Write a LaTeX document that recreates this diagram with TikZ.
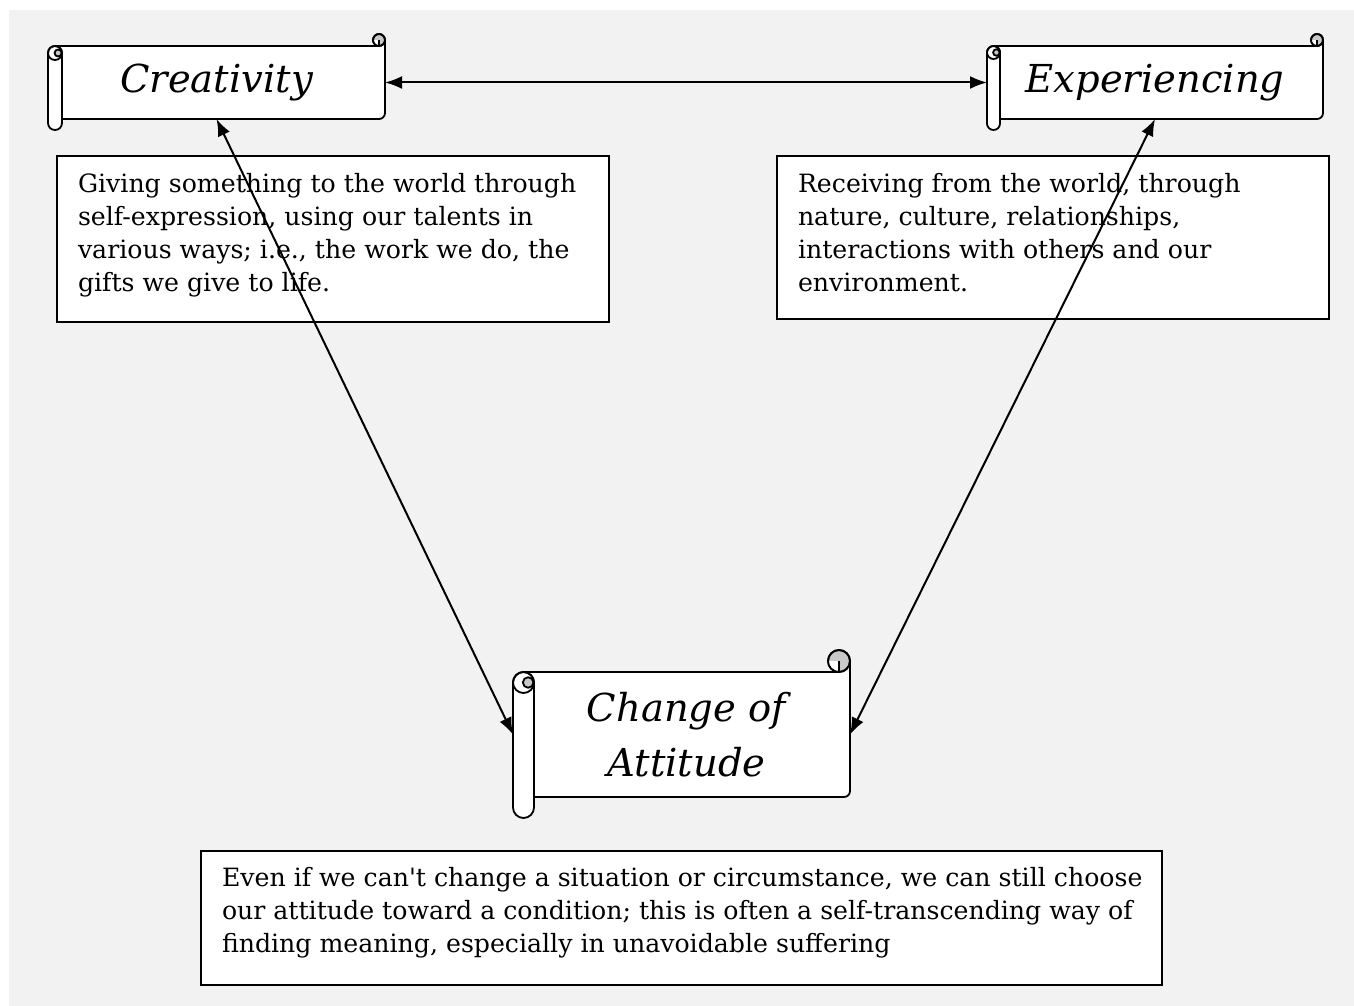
\documentclass[tikz,border=0pt]{standalone}
\usepackage{fontspec}
\setmainfont{DejaVu Serif}
\usetikzlibrary{arrows.meta}
\definecolor{bggray}{RGB}{242,242,242}
\definecolor{curlgray}{RGB}{200,200,200}
\tikzset{
  scrolltext/.style={inner sep=0pt, outer sep=0pt, align=center, font=\fontsize{38.5}{55}\selectfont\itshape},
  scrollline/.style={line width=1.8pt, draw=black},
  descbox/.style={draw=black, fill=white, line width=1.7pt, inner sep=0pt, outer sep=0pt, anchor=north west},
  desctext/.style={inner sep=0pt, outer sep=0pt, align=left, anchor=base west, font=\fontsize{25.2}{33}\selectfont},
  link/.style={line width=2pt, {Latex[length=17pt,width=13pt]}-{Latex[length=17pt,width=13pt]}}
}
% #1 name, #2 L, #3 w, #4 T, #5 B, #6 R, #7 roll bottom, #8 curl radius, #9 text
\newcommand\drawscroll[9]{%
  \fill[white] ({#2+#3/2},#4) -- (#6,#4) [rounded corners=6pt] -- (#6,#5) [sharp corners] -- ({#2+#3/2},#5) -- cycle;
  \draw[scrollline] ({#2+#3/2},#4) -- ({#6-#8},#4);
  \draw[scrollline] (#6,{#4-#8}) [rounded corners=6pt] -- (#6,#5) -- ({#2+#3},#5);
  % top-right curl
  \filldraw[scrollline, fill=curlgray] ({#6-#8},{#4-#8}) circle (#8);
  \begin{scope}
    \clip ({#6-#8},{#4-#8}) circle (#8);
    \fill[white] ({#6-2*#8-1},{#4-#8}) rectangle ({#6-#8},{#4+1});
  \end{scope}
  \draw[scrollline] ({#6-#8},{#4-#8}) circle (#8);
  \draw[scrollline] ({#6-#8},{#4-#8}) -- ({#6-#8},#4);
  % left roll
  \filldraw[scrollline, fill=white, rounded corners={#3/2}] (#2,#4) rectangle ({#2+#3},#7);
  \draw[scrollline] ({#2+#3/2},{#4+#3/2}) circle ({#3/2});
  \filldraw[scrollline, fill=curlgray] ({#2+0.72*#3},{#4+#3/2}) circle ({#3/4});
  \node[scrolltext, minimum width={#6-#2}, minimum height={#5-#4}] (#1) at ({(#2+#6)/2},{(#4+#5)/2}) {#9};
}
\begin{document}
\begin{tikzpicture}[x=1pt,y=-1pt]
\useasboundingbox (0,0) rectangle (1354,1006);
\fill[white] (0,0) rectangle (1354,1006);
\fill[bggray] (9,10) rectangle (1354,1006);

% description boxes
\node[descbox, minimum width=552, minimum height=166] (b1) at (57,156) {};
\node[desctext] (t1) at (78,291) {Giving something to the world through\\self-expression, using our talents in\\various ways; i.e., the work we do, the\\gifts we give to life.};
\node[descbox, minimum width=552, minimum height=163] (b2) at (777,156) {};
\node[desctext] (t2) at (798,291) {Receiving from the world, through\\nature, culture, relationships,\\interactions with others and our\\environment.};
\node[descbox, minimum width=961, minimum height=134] (b3) at (201,851) {};
\node[desctext] (t3) at (222,952) {Even if we can\textquotesingle t change a situation or circumstance, we can still choose\\our attitude toward a condition; this is often a self-transcending way of\\finding meaning, especially in unavoidable suffering};

% scrolls
\drawscroll{cre}{48}{14}{46}{119}{385}{130}{6}{Creativity}
\drawscroll{exp}{987}{13}{46}{119}{1323}{130}{6}{Experiencing}
\drawscroll{chg}{513}{21}{672}{797}{850}{818}{11}{\hspace*{10pt}Change of\\\hspace*{10pt}Attitude}

% connectors
\draw[link] (cre.east) -- (exp.west);
\draw[link] (cre.south) -- (chg.west);
\draw[link] (exp.south) -- (chg.east);
\end{tikzpicture}
\end{document}
